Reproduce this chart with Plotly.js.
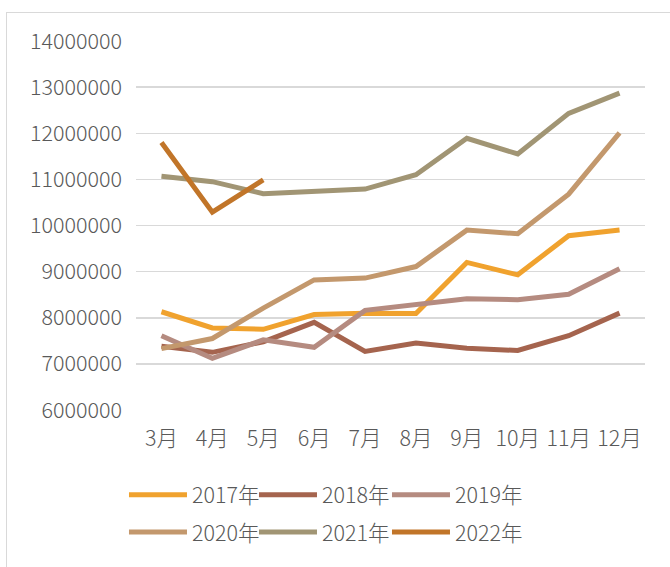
<!DOCTYPE html>
<html>
<head>
<meta charset="utf-8">
<script src="https://cdn.plot.ly/plotly-3.0.1.min.js"></script>
<style>
  html, body { margin: 0; padding: 0; background: #fff; }
  #wrap { position: relative; width: 670px; height: 567px; }
  #chart { width: 670px; height: 567px; }
  #frame { position: absolute; left: 6px; top: 12px; width: 700px; height: 600px;
           border-left: 1px solid #d9d9d9; border-top: 1px solid #d9d9d9; pointer-events: none; }
</style>
</head>
<body>
<div id="wrap">
  <div id="chart"></div>
  <div id="frame"></div>
</div>
<script>
const months = ["3月", "4月", "5月", "6月", "7月", "8月", "9月", "10月", "11月", "12月"];
const seriesNames = ["2017年", "2018年", "2019年", "2020年", "2021年", "2022年"];
const y2017 = [8130000, 7780000, 7750000, 8070000, 8100000, 8090000, 9200000, 8930000, 9780000, 9900000];
const y2018 = [7380000, 7250000, 7480000, 7900000, 7270000, 7450000, 7340000, 7290000, 7610000, 8100000];
const y2019 = [7610000, 7120000, 7520000, 7360000, 8160000, 8280000, 8410000, 8390000, 8510000, 9060000];
const y2020 = [7330000, 7550000, 8210000, 8820000, 8860000, 9110000, 9900000, 9820000, 10680000, 12010000];
const y2021 = [11070000, 10950000, 10690000, 10730000, 10790000, 11100000, 11890000, 11550000, 12430000, 12870000];
const y2022 = [11800000, 10290000, 10990000];
const seriesValues = [y2017, y2018, y2019, y2020, y2021, y2022];
const seriesColors = ["#F0A22E", "#A5644E", "#B58B80", "#C3986D", "#A19574", "#C17529"];

const fontFam = '"Noto Sans CJK SC", "Noto Sans", sans-serif';
const fsz = 21.5;
const txtFont = { family: fontFam, size: fsz, color: "#595959", weight: 300 };

// legend slot placement (paper coords): 3 columns x 2 rows
const legendCols = [-0.0236, 0.2318, 0.4931];
const legendRows = [-0.230, -0.331];
const legendIds = ["legend", "legend2", "legend3", "legend4", "legend5", "legend6"];

const traces = seriesNames.map((name, i) => ({
  type: "scatter",
  mode: "lines",
  name: name,
  legend: legendIds[i],
  x: months.slice(0, seriesValues[i].length),
  y: seriesValues[i],
  line: { color: seriesColors[i], width: 5 },
  hoverinfo: "x+y+name"
}));

const layout = {
  width: 670,
  height: 567,
  margin: { l: 136, r: 25, t: 41, b: 157 },
  paper_bgcolor: "#ffffff",
  plot_bgcolor: "#ffffff",
  font: txtFont,
  showlegend: true,
  xaxis: {
    type: "category",
    categoryorder: "array",
    categoryarray: months,
    showgrid: false,
    zeroline: false,
    showline: false,
    ticks: "",
    ticklabelstandoff: 13,
    tickfont: txtFont,
    range: [-0.5, 9.5]
  },
  yaxis: {
    range: [6000000, 14000000],
    dtick: 1000000,
    tick0: 0,
    tickformat: "d",
    showgrid: true,
    gridcolor: "#d9d9d9",
    gridwidth: 1.5,
    zeroline: false,
    showline: false,
    ticks: "",
    ticklabelstandoff: 13,
    tickfont: txtFont
  }
};

legendIds.forEach((id, i) => {
  layout[id] = {
    orientation: "h",
    x: legendCols[i % 3], xanchor: "left",
    y: legendRows[Math.floor(i / 3)], yanchor: "middle",
    itemwidth: 58,
    bgcolor: "rgba(0,0,0,0)",
    font: txtFont
  };
});

Plotly.newPlot("chart", traces, layout, { displayModeBar: false, staticPlot: true });
</script>
</body>
</html>
